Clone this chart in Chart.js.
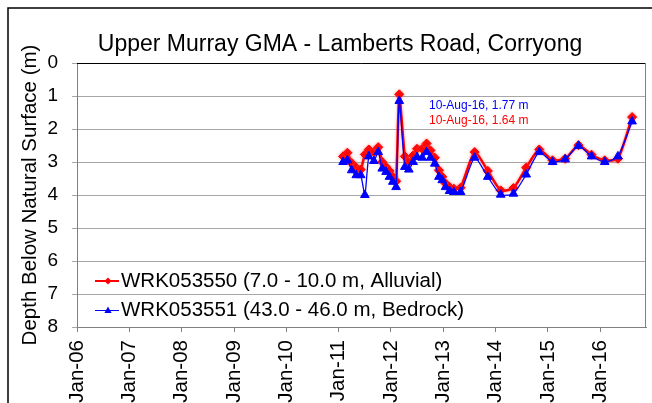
<!DOCTYPE html>
<html>
<head>
<title>Upper Murray GMA - Lamberts Road, Corryong</title>
<script src="https://cdn.jsdelivr.net/npm/chart.js"></script>
<style>
body { margin: 0; background: #fff; }
</style>
</head>
<body>
<canvas id="myChart" width="652" height="403"></canvas>
<script>
const ctx = document.getElementById('myChart').getContext('2d');

// sampling dates
const sampleDates = [
    '2011-02-01', '2011-03-03', '2011-04-02', '2011-05-04', '2011-06-04', '2011-07-03',
    '2011-07-31', '2011-09-04', '2011-10-04', '2011-11-01', '2011-11-28', '2011-12-22',
    '2012-01-14', '2012-02-06', '2012-02-28', '2012-04-07', '2012-05-05', '2012-06-04',
    '2012-07-01', '2012-08-06', '2012-09-06', '2012-10-03', '2012-11-02', '2012-12-01',
    '2012-12-24', '2013-01-16', '2013-02-13', '2013-03-15', '2013-05-01', '2013-08-07',
    '2013-11-07', '2014-02-05', '2014-05-05', '2014-08-02', '2014-11-01', '2015-02-02',
    '2015-05-01', '2015-08-02', '2015-11-01', '2016-02-01', '2016-05-03', '2016-08-10'
];

// WRK053550 (7.0 - 10.0 m, Alluvial) - depth in m
const alluvialDepth = [
    2.83, 2.72, 3.03, 3.17, 3.23, 2.77,
    2.62, 2.70, 2.55, 3.00, 3.15, 3.27,
    3.45, 3.58, 0.95, 2.83, 3.00, 2.80,
    2.60, 2.60, 2.44, 2.65, 2.87, 3.25,
    3.45, 3.65, 3.76, 3.81, 3.78, 2.70,
    3.27, 3.86, 3.79, 3.17, 2.62, 2.95,
    2.90, 2.49, 2.78, 2.95, 2.90, 1.64
];

// WRK053551 (43.0 - 46.0 m, Bedrock) - depth in m
const bedrockDepth = [
    3.00, 2.95, 3.25, 3.40, 3.40, 4.00,
    2.83, 2.97, 2.70, 3.20, 3.30, 3.45,
    3.60, 3.76, 1.15, 3.15, 3.23, 3.00,
    2.85, 2.87, 2.70, 2.87, 3.05, 3.45,
    3.55, 3.76, 3.88, 3.91, 3.91, 2.87,
    3.45, 3.99, 3.96, 3.38, 2.70, 3.00,
    2.92, 2.51, 2.83, 3.00, 2.83, 1.77
];

const seriesNames = ['WRK053550 (7.0 - 10.0 m, Alluvial)', 'WRK053551 (43.0 - 46.0 m, Bedrock)'];
const yearTicks = [2006, 2007, 2008, 2009, 2010, 2011, 2012, 2013, 2014, 2015, 2016];
const depthTicks = [0, 1, 2, 3, 4, 5, 6, 7, 8];
const chartTitle = 'Upper Murray GMA - Lamberts Road, Corryong';
const axisTitle = 'Depth Below Natural Surface (m)';

const MONTHS = ['Jan', 'Feb', 'Mar', 'Apr', 'May', 'Jun', 'Jul', 'Aug', 'Sep', 'Oct', 'Nov', 'Dec'];
const FONT = '"Liberation Sans", Arial, sans-serif';

function toPoints(values) {
    return sampleDates.map((d, i) => ({ x: Date.parse(d), y: values[i] }));
}

function shortDate(str) {
    const d = new Date(Date.parse(str));
    return d.getUTCDate() + '-' + MONTHS[d.getUTCMonth()] + '-' + String(d.getUTCFullYear()).slice(2);
}

// label for the last reading of each bore
const last = sampleDates.length - 1;
const lastLabels = [
    { text: shortDate(sampleDates[last]) + ', ' + bedrockDepth[last].toFixed(2) + ' m', color: '#0000ff' },
    { text: shortDate(sampleDates[last]) + ', ' + alluvialDepth[last].toFixed(2) + ' m', color: '#ff0000' }
];

function drawMarker(c, style, x, y, r, color) {
    c.fillStyle = color;
    c.beginPath();
    if (style === 'rectRot') {
        c.moveTo(x, y - r); c.lineTo(x + r, y); c.lineTo(x, y + r); c.lineTo(x - r, y);
    } else {
        c.moveTo(x, y - r); c.lineTo(x + r * 0.9, y + r * 0.6); c.lineTo(x - r * 0.9, y + r * 0.6);
    }
    c.closePath();
    c.fill();
}

const decor = {
    id: 'decor',
    beforeDraw(chart) {
        const c = chart.ctx;
        c.save();
        c.fillStyle = '#fff';
        c.fillRect(0, 0, chart.width, chart.height);
        c.strokeStyle = '#000';
        c.lineWidth = 1.5;
        c.strokeRect(8, 8, chart.width + 20, chart.height + 20);
        c.restore();
    },
    beforeDatasetDraw(chart, args) {
        if (args.index === 0) {
            chart.ctx.save();
            chart.ctx.shadowColor = 'rgba(255, 90, 90, 0.6)';
            chart.ctx.shadowBlur = 3;
        }
    },
    afterDatasetDraw(chart, args) {
        if (args.index === 0) chart.ctx.restore();
    },
    afterDraw(chart) {
        const c = chart.ctx;
        const a = chart.chartArea;
        c.save();
        // plot area frame (top / right)
        c.lineWidth = 1;
        c.strokeStyle = '#000';
        c.beginPath(); c.moveTo(a.left, a.top + 0.5); c.lineTo(a.right, a.top + 0.5); c.stroke();
        c.strokeStyle = '#808080';
        c.beginPath(); c.moveTo(a.right - 0.5, a.top); c.lineTo(a.right - 0.5, a.bottom); c.stroke();

        // title
        c.fillStyle = '#000';
        c.font = '23px ' + FONT;
        c.textAlign = 'center';
        c.textBaseline = 'alphabetic';
        c.fillText(chartTitle, a.left + 263, 51);

        // last reading labels
        c.font = '12px ' + FONT;
        c.textAlign = 'left';
        c.textBaseline = 'middle';
        lastLabels.forEach((l, i) => {
            c.fillStyle = l.color;
            c.fillText(l.text, a.left + 352, a.top + 43 + i * 14.5);
        });

        // legend (inside plot, bottom left)
        c.font = '20.5px ' + FONT;
        chart.data.datasets.forEach((ds, i) => {
            const y = a.bottom - 46 + i * 29.5;
            c.strokeStyle = ds.borderColor;
            c.lineWidth = i === 0 ? 2 : 1;
            c.beginPath(); c.moveTo(a.left + 18, y); c.lineTo(a.left + 42, y); c.stroke();
            drawMarker(c, ds.pointStyle, a.left + 31, y, i === 0 ? 3.5 : 4, ds.borderColor);
            c.fillStyle = '#000';
            c.fillText(ds.label, a.left + 44, y);
        });
        c.restore();
    }
};

const chart = new Chart(ctx, {
    type: 'line',
    data: {
        datasets: [{
            label: seriesNames[0],
            data: toPoints(alluvialDepth),
            borderColor: '#ff0000',
            backgroundColor: '#ff0000',
            borderWidth: 2.5,
            pointStyle: 'rectRot',
            pointRadius: 4.5,
            pointBorderWidth: 1,
            tension: 0.2,
            fill: false,
            order: 2
        }, {
            label: seriesNames[1],
            data: toPoints(bedrockDepth),
            borderColor: '#0000ff',
            backgroundColor: '#0000ff',
            borderWidth: 1.3,
            pointStyle: 'triangle',
            pointRadius: 5,
            pointBorderWidth: 1,
            tension: 0.2,
            fill: false,
            order: 1
        }]
    },
    options: {
        responsive: false,
        animation: false,
        layout: { padding: { left: 10, top: 63, right: 4, bottom: 0 } },
        plugins: {
            legend: { display: false },
            title: { display: false },
            tooltip: { enabled: false }
        },
        scales: {
            x: {
                type: 'linear',
                min: Date.UTC(2006, 0, 1),
                max: Date.UTC(2016, 10, 15),
                afterBuildTicks: s => { s.ticks = yearTicks.map(y => ({ value: Date.UTC(y, 0, 1) })); },
                afterFit: s => { s.height = 76; },
                ticks: {
                    minRotation: 90,
                    maxRotation: 90,
                    autoSkip: false,
                    padding: 8,
                    color: '#000',
                    font: { family: FONT, size: 20.5 },
                    callback: v => 'Jan-' + String(new Date(v).getUTCFullYear()).slice(2)
                },
                grid: { drawOnChartArea: false, tickLength: 5, color: '#808080' },
                border: { color: '#808080' }
            },
            y: {
                reverse: true,
                min: depthTicks[0],
                max: depthTicks[depthTicks.length - 1],
                afterBuildTicks: s => { s.ticks = depthTicks.map(v => ({ value: v })); },
                afterFit: s => { s.width = 67; },
                ticks: {
                    padding: 14,
                    color: '#000',
                    font: { family: FONT, size: 19 }
                },
                grid: { color: '#a6a6a6', tickLength: 5 },
                border: { color: '#808080' },
                title: {
                    display: true,
                    text: axisTitle,
                    color: '#000',
                    font: { family: FONT, size: 20.5 },
                    padding: { top: 8, bottom: 0 }
                }
            }
        }
    },
    plugins: [decor]
});
</script>
</body>
</html>
